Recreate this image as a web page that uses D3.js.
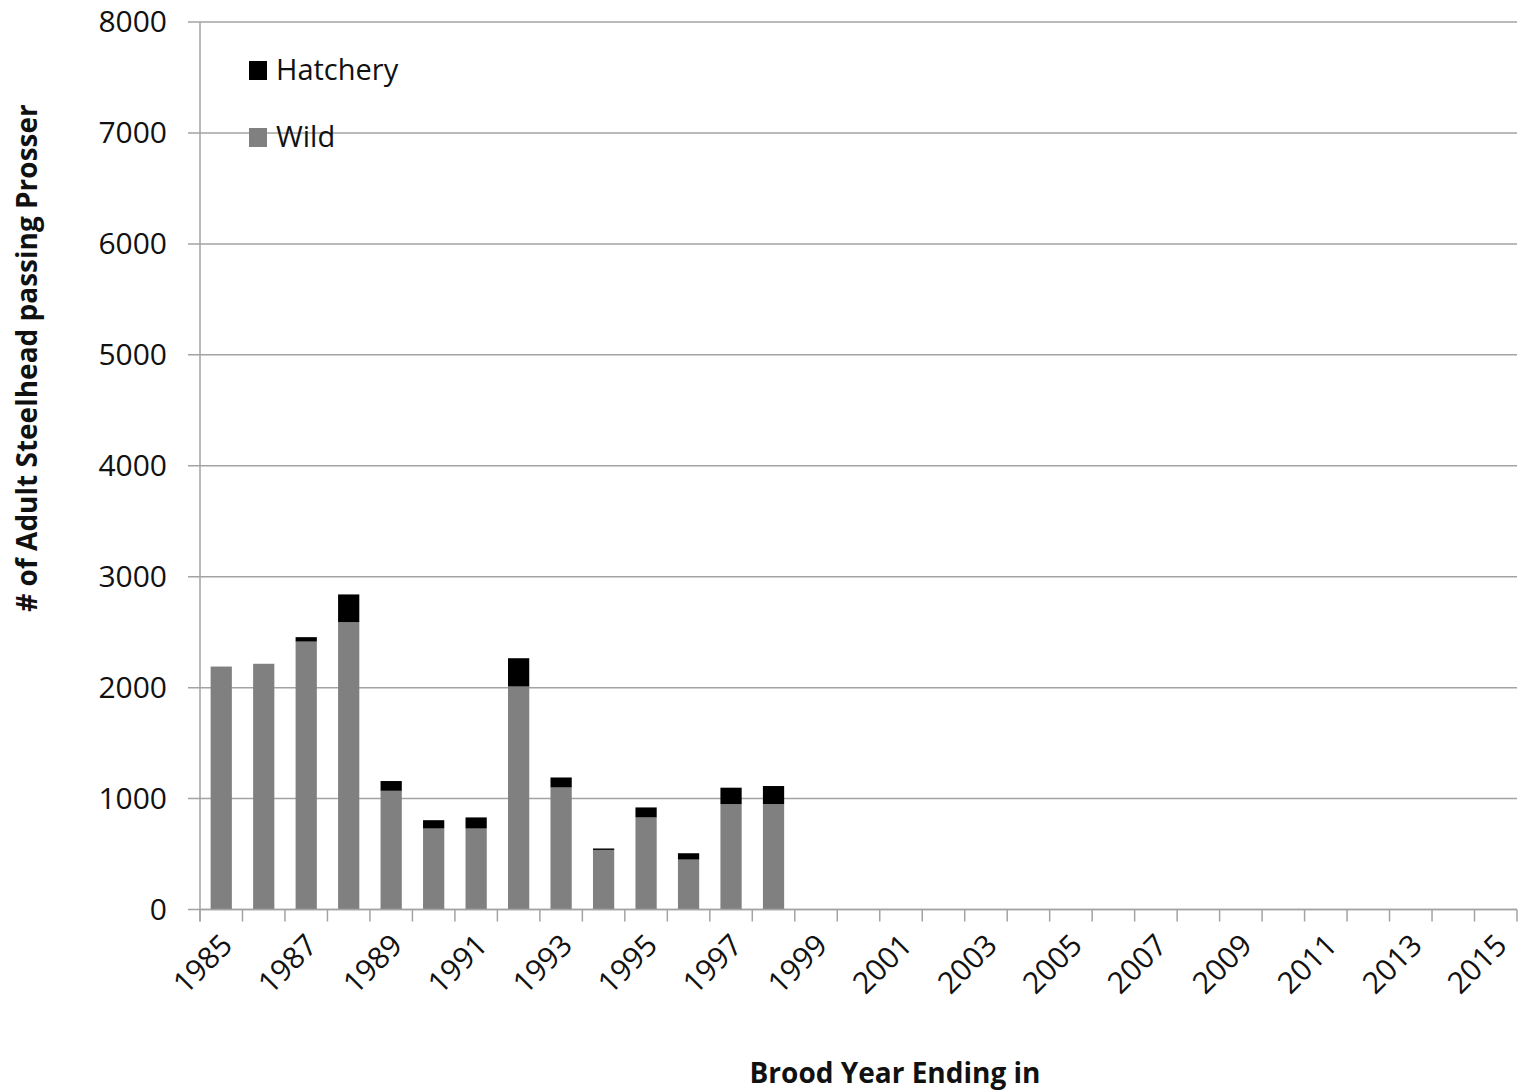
<!DOCTYPE html>
<html>
<head>
<meta charset="utf-8">
<script src="https://cdn.jsdelivr.net/npm/d3@7"></script>
<style>
  body { margin: 0; background: #fff; }
  svg { font-family: "Open Sans", sans-serif; }
</style>
</head>
<body>
<svg width="1520" height="1092"></svg>
<script>
// brood years, 1985..2015 (only the first 14 have counts)
const years = d3.range(1985, 2016).map(String);
const wild = [2190, 2215, 2415, 2590, 1070, 730, 730, 2010, 1100, 537, 830, 450, 950, 950];
const hatchery = [0, 0, 40, 250, 88, 75, 100, 255, 90, 13, 90, 57, 148, 163];
const yTicks = [0, 1000, 2000, 3000, 4000, 5000, 6000, 7000, 8000];
const xLabels = years.filter((d, i) => i % 2 === 0);
const seriesNames = ['Hatchery', 'Wild'];
const colors = { Wild: '#808080', Hatchery: '#000000' };
const textColor = '#111';

// rows for the stack
const rows = years.map((y, i) => ({ year: y, Wild: wild[i] || 0, Hatchery: hatchery[i] || 0 }));

const svg = d3.select('svg');
const plotL = 200, plotR = 1517, plotT = 22, plotB = 909.5;

const x = d3.scaleBand().domain(years).range([plotL, plotR]).paddingInner(0.5).paddingOuter(0.25);
const y = d3.scaleLinear().domain([0, 8000]).range([plotB, plotT]);

// grid lines (drawn under the bars)
svg.append('g')
  .selectAll('line')
  .data(yTicks)
  .enter()
  .append('line')
  .attr('x1', plotL - 12)
  .attr('x2', plotR)
  .attr('y1', d => y(d))
  .attr('y2', d => y(d))
  .attr('stroke', '#a3a3a3')
  .attr('stroke-width', 1.5);

// y axis labels
const yAxis = svg.append('g')
  .attr('transform', `translate(${plotL},0)`)
  .call(d3.axisLeft(y).tickValues(yTicks).tickSize(0).tickPadding(33).tickFormat(d3.format('d')));
yAxis.select('.domain').remove();
yAxis.selectAll('text').attr('font-size', 30).attr('fill', textColor).attr('font-family', '"Open Sans", sans-serif');

// stacked bars
const stack = d3.stack().keys(['Wild', 'Hatchery'])(rows);
svg.append('g')
  .selectAll('g')
  .data(stack)
  .enter()
  .append('g')
  .attr('fill', d => colors[d.key])
  .selectAll('rect')
  .data(d => d)
  .enter()
  .append('rect')
  .attr('x', d => x(d.data.year))
  .attr('width', x.bandwidth())
  .attr('y', d => y(d[1]))
  .attr('height', d => y(d[0]) - y(d[1]));

// axis lines
svg.append('line')
  .attr('x1', plotL).attr('x2', plotL)
  .attr('y1', plotT).attr('y2', plotB + 12)
  .attr('stroke', '#a3a3a3').attr('stroke-width', 1.5);
svg.append('line')
  .attr('x1', plotL).attr('x2', plotR)
  .attr('y1', plotB).attr('y2', plotB)
  .attr('stroke', '#a3a3a3').attr('stroke-width', 1.5);

// x tick marks sit on the category boundaries
const step = x.step();
svg.append('g')
  .selectAll('line')
  .data(years.concat(['end']))
  .enter()
  .append('line')
  .attr('x1', (d, i) => plotL + i * step)
  .attr('x2', (d, i) => plotL + i * step)
  .attr('y1', plotB)
  .attr('y2', plotB + 12)
  .attr('stroke', '#a3a3a3').attr('stroke-width', 1.5);

// x labels, every other year, rotated
svg.append('g')
  .selectAll('text')
  .data(xLabels)
  .enter()
  .append('text')
  .attr('transform', d => `translate(${x(d) + x.bandwidth() / 2 + 13},947) rotate(-45)`)
  .attr('text-anchor', 'end')
  .attr('font-size', 30)
  .attr('fill', textColor)
  .text(d => d);

// legend
const legend = svg.append('g')
  .selectAll('g')
  .data(seriesNames)
  .enter()
  .append('g')
  .attr('transform', (d, i) => `translate(249,${61 + i * 67})`);
legend.append('rect')
  .attr('width', 18).attr('height', 19)
  .attr('fill', d => colors[d]);
legend.append('text')
  .attr('x', 27).attr('y', 19)
  .attr('font-size', 29)
  .attr('fill', textColor)
  .text(d => d);

// axis titles
svg.append('text')
  .attr('x', 895).attr('y', 1083)
  .attr('text-anchor', 'middle')
  .attr('font-size', 28).attr('font-weight', 'bold')
  .attr('fill', textColor)
  .text('Brood Year Ending in');
svg.append('text')
  .attr('transform', 'translate(37,358) rotate(-90)')
  .attr('text-anchor', 'middle')
  .attr('font-size', 28).attr('font-weight', 'bold')
  .attr('fill', textColor)
  .text('# of Adult Steelhead passing Prosser');
</script>
</body>
</html>
